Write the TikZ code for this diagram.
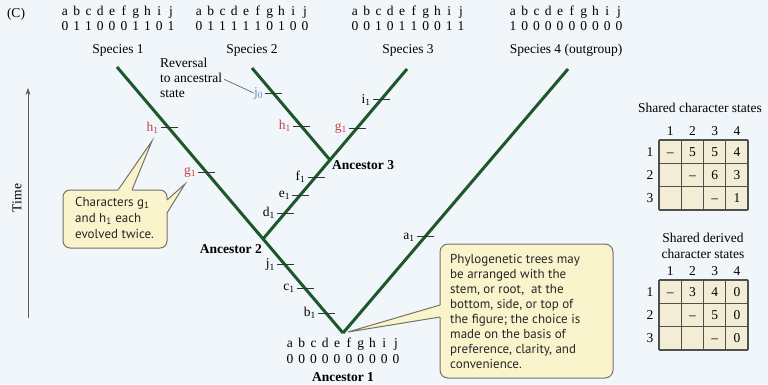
\documentclass[tikz,border=0pt]{standalone}
\usepackage{fontspec}
\setmainfont{Liberation Serif}
\newfontfamily\callfont{PT Sans}
\usetikzlibrary{calc,arrows.meta}
\definecolor{bgc}{RGB}{241,246,250}
\definecolor{treegreen}{RGB}{28,88,42}
\definecolor{redlab}{RGB}{205,60,72}
\definecolor{bluelab}{RGB}{90,140,200}
\definecolor{callfill}{RGB}{250,244,205}
\definecolor{callline}{RGB}{115,115,105}
\definecolor{tabfill}{RGB}{243,237,214}
\definecolor{tabline}{RGB}{80,80,80}
\newcommand\serfont{\fontsize{13.5}{15}\selectfont}
\newcommand\cfont{\callfont\fontsize{13}{15}\selectfont}
\newcommand\chc[1]{\makebox[11.8pt]{#1}}
\newcommand\letrow{\chc a\chc b\chc c\chc d\chc e\chc f\chc g\chc h\chc i\chc j}
\newcommand\tdash{\vphantom{0}\textendash}
\newcommand\mtick[5]{%
  \coordinate (#5) at ($(#1)!#3!(#2)$);
  \draw[tickline] ($(#5)+(-8,0)$) -- ($(#5)+(9,0)$);
  \node[anchor=east] (#5l) at ($(#5)+(-10,0)$) {#4};}
\begin{document}
\begin{tikzpicture}[x=1pt,y=-1pt,
  every node/.style={inner sep=0pt, font=\serfont},
  branch/.style={line width=3pt, draw=treegreen},
  tickline/.style={line width=0.9pt, draw=black!80},
  callbox/.style={fill=callfill, draw=callline, line width=1pt},
  tabl/.style={draw=tabline, line width=1.3pt}]
\fill[bgc] (0,0) rectangle (768,384);
\useasboundingbox (0,0) rectangle (768,384);

% tree coordinates
\coordinate (s1) at (117,67);
\coordinate (s2) at (252,68);
\coordinate (s3) at (407,69);
\coordinate (s4) at (568,69);
\coordinate (a1) at (343,333);
\coordinate (a2) at (263,239);
\coordinate (a3) at (330,160);

\draw[branch] (s1) -- (a1);
\draw[branch] (s4) -- (a1);
\draw[branch] (s3) -- (a2);
\draw[branch] (s2) -- (a3);

% ticks
\mtick{s1}{a1}{0.229}{\textcolor{redlab}{h\textsubscript{1}}}{th1}
\mtick{s1}{a1}{0.395}{\textcolor{redlab}{g\textsubscript{1}}}{tg1}
\mtick{s1}{a1}{0.744}{j\textsubscript{1}}{tj1}
\mtick{s1}{a1}{0.831}{c\textsubscript{1}}{tc1}
\mtick{s1}{a1}{0.925}{b\textsubscript{1}}{tb1}
\mtick{s2}{a3}{0.272}{\textcolor{bluelab}{j\textsubscript{0}}}{tj0}
\mtick{s2}{a3}{0.630}{\textcolor{redlab}{h\textsubscript{1}}}{th2}
\mtick{s3}{a2}{0.182}{i\textsubscript{1}}{ti1}
\mtick{s3}{a2}{0.347}{\textcolor{redlab}{g\textsubscript{1}}}{tg2}
\mtick{s3}{a2}{0.635}{f\textsubscript{1}}{tf1}
\mtick{s3}{a2}{0.741}{e\textsubscript{1}}{te1}
\mtick{s3}{a2}{0.847}{d\textsubscript{1}}{td1}
\mtick{a1}{s4}{0.364}{a\textsubscript{1}}{ta1}

% header
\node (C) at (16,14) {(C)};
\node (l1) at (118,12) {\letrow};
\node (d1) at (118,26) {\chc0\chc1\chc1\chc0\chc0\chc0\chc1\chc1\chc0\chc1};
\node (l2) at (252,12) {\letrow};
\node (d2) at (252,26) {\chc0\chc1\chc1\chc1\chc1\chc1\chc0\chc1\chc0\chc0};
\node (l3) at (408,12) {\letrow};
\node (d3) at (408,26) {\chc0\chc0\chc1\chc0\chc1\chc1\chc0\chc0\chc1\chc1};
\node (l4) at (566,12) {\letrow};
\node (d4) at (566,26) {\chc1\chc0\chc0\chc0\chc0\chc0\chc0\chc0\chc0\chc0};
\node (sp1) at (118,50) {Species 1};
\node (sp2) at (252,50) {Species 2};
\node (sp3) at (408,50) {Species 3};
\node (sp4) at (566,50) {Species 4 (outgroup)};

% reversal note
\node[anchor=base west] (rv1) at (160,67) {Reversal};
\node[anchor=base west] (rv2) at (160,82) {to ancestral};
\node[anchor=base west] (rv3) at (160,97) {state};
\draw[black!60, line width=0.7pt] (rv2.east) ++(2,2) coordinate (rvs) -- (tj0l.west);

% ancestors
\node[anchor=west, font=\serfont\bfseries] (an3) at (332,165) {Ancestor 3};
\node[anchor=east, font=\serfont\bfseries] (an2) at (262,249) {Ancestor 2};
\node (la) at (343,344) {\letrow};
\node (da) at (343,359) {\chc0\chc0\chc0\chc0\chc0\chc0\chc0\chc0\chc0\chc0};
\node[font=\serfont\bfseries] (an1) at (343,377) {Ancestor 1};

% time axis
\coordinate (tb) at (28,318);
\coordinate (tt) at (28,88);
\draw[black!65, line width=0.8pt, -{Stealth[length=7pt,width=5pt]}] (tb) -- (tt);
\node[rotate=90] (time) at (17,198) {Time};

% callout 1
\coordinate (c1tip1) at (152,141);
\coordinate (c1tip2) at (185,184);
\draw[callbox, rounded corners=7pt] (63,190) rectangle (167,248);
\fill[callfill] (118,190) -- (c1tip1) -- (132,190) -- (132,193) -- (118,193) -- cycle;
\fill[callfill] (167,200) -- (c1tip2) -- (167,213) -- (164,213) -- (164,200) -- cycle;
\draw[callline, line width=1pt, line join=miter] (118,190) -- (c1tip1) -- (132,190);
\draw[callline, line width=1pt, line join=miter] (167,200) -- (c1tip2) -- (167,213);
\node[anchor=base west, font=\cfont, text=black!85] (ct1) at (75,206) {Characters g\textsubscript{1}};
\node[anchor=base west, font=\cfont, text=black!85] (ct2) at (75,222) {and h\textsubscript{1} each};
\node[anchor=base west, font=\cfont, text=black!85] (ct3) at (75,238) {evolved twice.};

% callout 2
\coordinate (c2tip) at (348,332);
\draw[callbox, rounded corners=8pt] (440,244) rectangle (613,378);
\fill[callfill] (440,305) -- (c2tip) -- (440,317) -- (443,317) -- (443,305) -- cycle;
\draw[callline, line width=1pt, line join=miter] (440,305) -- (c2tip) -- (440,317);
\foreach \t [count=\k from 0] in {Phylogenetic trees may,be arranged with the,{stem, or root,\ \ at the},{bottom, side, or top of},the figure; the choice is,made on the basis of,{preference, clarity, and},convenience.}
  \node[anchor=base west, font=\cfont, text=black!85] (pt\k) at (450,{263+15*\k}) {\t};

% table 1
\node (tt1) at (700,108) {Shared character states};
\fill[tabfill] (659,140) rectangle (748,210);
\foreach \i in {0,...,4} \draw[tabl] ({659+22.25*\i},140) -- ({659+22.25*\i},210);
\foreach \j in {0,...,3} \draw[tabl] (659,{140+70/3*\j}) -- (748,{140+70/3*\j});
\foreach \c in {1,...,4} \node (h1\c) at ({659+22.25*(\c-0.5)},131) {\c};
\foreach \r in {1,...,3} \node (r1\r) at (650,{140+70/3*(\r-0.5)}) {\r};
\foreach \c/\r/\v in {1/1/\tdash,2/1/5,3/1/5,4/1/4,2/2/\tdash,3/2/6,4/2/3,3/3/\tdash,4/3/1}
  \node (e1\c\r) at ({659+22.25*(\c-0.5)},{140+70/3*(\r-0.5)}) {\v};

% table 2
\node (tt2a) at (703,238) {Shared derived};
\node (tt2b) at (703,254) {character states};
\fill[tabfill] (659,280) rectangle (748,350);
\foreach \i in {0,...,4} \draw[tabl] ({659+22.25*\i},280) -- ({659+22.25*\i},350);
\foreach \j in {0,...,3} \draw[tabl] (659,{280+70/3*\j}) -- (748,{280+70/3*\j});
\foreach \c in {1,...,4} \node (h2\c) at ({659+22.25*(\c-0.5)},271) {\c};
\foreach \r in {1,...,3} \node (r2\r) at (650,{280+70/3*(\r-0.5)}) {\r};
\foreach \c/\r/\v in {1/1/\tdash,2/1/3,3/1/4,4/1/0,2/2/\tdash,3/2/5,4/2/0,3/3/\tdash,4/3/0}
  \node (e2\c\r) at ({659+22.25*(\c-0.5)},{280+70/3*(\r-0.5)}) {\v};
\end{tikzpicture}
\end{document}
